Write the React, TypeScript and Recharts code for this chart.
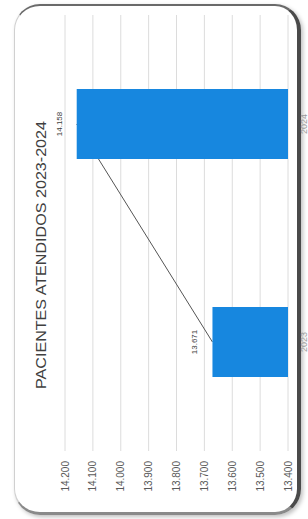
import React from "react";
import { ComposedChart, Bar, Line, XAxis, YAxis, CartesianGrid, LabelList } from "recharts";

const categories = ["2024", "2023"];
const values = [14158, 13671];
const valueLabels = ["14.158", "13.671"];
const tickValues = [14200, 14100, 14000, 13900, 13800, 13700, 13600, 13500, 13400];
const tickLabels = ["14.200", "14.100", "14.000", "13.900", "13.800", "13.700", "13.600", "13.500", "13.400"];
const title = "PACIENTES ATENDIDOS 2023-2024";

const data = categories.map((c, i) => ({ year: c, value: values[i] }));

const FONT = "'Liberation Sans', Arial, sans-serif";
const MARGIN = { top: 15, right: 2, bottom: 38, left: 65 };
const W = 308;
const H = 519;

const ValueTick = (props: any) => {
  const { x, y, payload } = props;
  const idx = tickValues.indexOf(payload.value);
  const txt = idx >= 0 ? tickLabels[idx] : String(payload.value);
  const ty = y + 2;
  return (
    <text
      x={x}
      y={ty}
      dy="0.35em"
      transform={`rotate(-90 ${x} ${ty})`}
      textAnchor="end"
      fontSize={10}
      fontFamily={FONT}
      fill="#595959"
    >
      {txt}
    </text>
  );
};

const CatTick = (props: any) => {
  const { x, y, payload } = props;
  const tx = x + 8;
  return (
    <text
      x={tx}
      y={y}
      dy="0.35em"
      transform={`rotate(-90 ${tx} ${y})`}
      textAnchor="middle"
      fontSize={9}
      fontFamily={FONT}
      fill="#999"
    >
      {payload.value}
    </text>
  );
};

const BarValueLabel = (props: any) => {
  const { x, y, width, height, index } = props;
  const left = Math.min(x, x + width);
  const lx = left - 18;
  const cy = y + height / 2;
  return (
    <text
      x={lx}
      y={cy}
      dy="0.35em"
      transform={`rotate(-90 ${lx} ${cy})`}
      textAnchor="middle"
      fontSize={8}
      fontFamily={FONT}
      fill="#404040"
    >
      {valueLabels[index]}
    </text>
  );
};

export default function App() {
  return (
    <div style={{ position: "absolute", left: 0, top: 0, width: W, height: H, background: "#fff", overflow: "hidden" }}>
      <div
        style={{
          position: "absolute",
          left: 14,
          top: 4,
          width: 282,
          height: 506,
          borderStyle: "solid",
          borderWidth: "2px 4px 3px 1px",
          borderColor: "#6a6a6a #4a4a4a #8a8a8a #d0d0d0",
          borderRadius: 26,
          boxShadow: "2px 2px 4px rgba(0,0,0,0.25)",
        }}
      />
      {/* layer 1: grid, axes, line (drawn beneath the bars) */}
      <div style={{ position: "absolute", left: 0, top: 0 }}>
        <ComposedChart width={W} height={H} data={data} layout="vertical" margin={MARGIN}>
          <CartesianGrid horizontal={false} vertical stroke="#dcdcdc" />
          <XAxis
            type="number"
            dataKey="value"
            domain={[13400, 14200]}
            ticks={tickValues}
            reversed
            axisLine={false}
            tickLine={false}
            height={30}
            tick={<ValueTick />}
            interval={0}
            allowDataOverflow
          />
          <YAxis
            type="category"
            dataKey="year"
            orientation="right"
            width={18}
            axisLine={false}
            tickLine={false}
            tick={<CatTick />}
          />
          <Bar dataKey="value" fill="none" fillOpacity={0} barSize={70} isAnimationActive={false} />
          <Line dataKey="value" stroke="#555" strokeWidth={1} dot={false} isAnimationActive={false} />
        </ComposedChart>
      </div>
      {/* layer 2: bars on top */}
      <div style={{ position: "absolute", left: 0, top: 0 }}>
        <ComposedChart width={W} height={H} data={data} layout="vertical" margin={MARGIN}>
          <XAxis
            type="number"
            dataKey="value"
            domain={[13400, 14200]}
            ticks={tickValues}
            reversed
            axisLine={false}
            tickLine={false}
            height={30}
            tick={false}
            allowDataOverflow
          />
          <YAxis
            type="category"
            dataKey="year"
            orientation="right"
            width={18}
            axisLine={false}
            tickLine={false}
            tick={false}
          />
          <Bar dataKey="value" fill="#1787df" barSize={70} isAnimationActive={false}>
            <LabelList dataKey="value" content={<BarValueLabel />} />
          </Bar>
        </ComposedChart>
      </div>
      <svg style={{ position: "absolute", left: 0, top: 0 }} width={W} height={H}>
        <text
          x={41}
          y={255}
          dy="0.35em"
          transform="rotate(-90 41 255)"
          textAnchor="middle"
          fontSize={15}
          fontFamily={FONT}
          fill="#404040"
          textLength={268}
          lengthAdjust="spacingAndGlyphs"
        >
          {title}
        </text>
      </svg>
    </div>
  );
}
